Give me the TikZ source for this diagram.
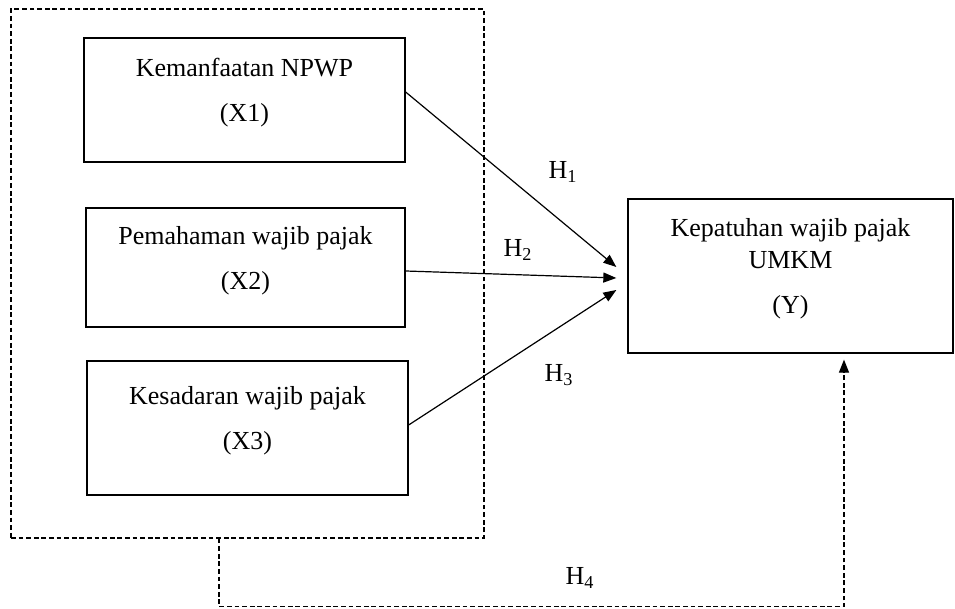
\documentclass[tikz,border=0pt]{standalone}
\usepackage{fontspec}
\setmainfont{Liberation Serif}
\usepackage{tikz}
\usetikzlibrary{arrows.meta,positioning,calc}

\begin{document}
\begin{tikzpicture}[x=0.5pt,y=-0.5pt,
  varbox/.style={draw,line width=0.65pt,align=center,font=\fontsize{13}{16}\selectfont},
  dashbox/.style={draw,line width=0.6pt,dash pattern=on 2.4pt off 1.4pt},
  arr/.style={line width=0.6pt,-{Triangle[length=6.5pt,width=5pt]}},
  hlab/.style={font=\fontsize{13}{16}\selectfont}]
\useasboundingbox (0,0) rectangle (955,609);
\node[dashbox,minimum width=236.5pt,minimum height=264.5pt] (frame) at (247.5,273.5) {};
\node[varbox,minimum width=160.5pt,minimum height=62pt] (x1) at (244.5,100) {Kemanfaatan NPWP\\[6.5pt](X1)\rule[-10pt]{0pt}{0pt}};
\node[varbox,minimum width=159.5pt,minimum height=59.5pt] (x2) at (245.5,267.5) {Pemahaman wajib pajak\\[6.5pt](X2)\rule[-10pt]{0pt}{0pt}};
\node[varbox,minimum width=160.5pt,minimum height=67pt] (x3) at (247.5,428) {Kesadaran wajib pajak\\[6.5pt](X3)\rule[-10pt]{0pt}{0pt}};
\node[varbox,minimum width=162.5pt,minimum height=77pt] (y) at (790.5,276) {Kepatuhan wajib pajak\\UMKM\\[6.5pt](Y)\rule[-10pt]{0pt}{0pt}};
% hubungan parsial
\draw[arr] ($(x1.east)+(0,-8)$) -- ($(y.west)+(-11,-9)$);
\draw[arr] ($(x2.east)+(0,3.5)$) -- ($(y.west)+(-11,2)$);
\draw[arr] ($(x3.east)+(0,-3)$) -- ($(y.west)+(-11,14)$);
\node[hlab] (h1) at (563,172) {H\textsubscript{1}};
\node[hlab] (h2) at (518,250) {H\textsubscript{2}};
\node[hlab] (h3) at (559,375) {H\textsubscript{3}};
% hubungan simultan
\draw[dashbox,arr] ($(frame.south)+(-28.5,0)$) -- ++(0,68) -| ($(y.south)+(53.5,6)$);
\node[hlab] (h4) at (580,578) {H\textsubscript{4}};
\end{tikzpicture}
\end{document}
